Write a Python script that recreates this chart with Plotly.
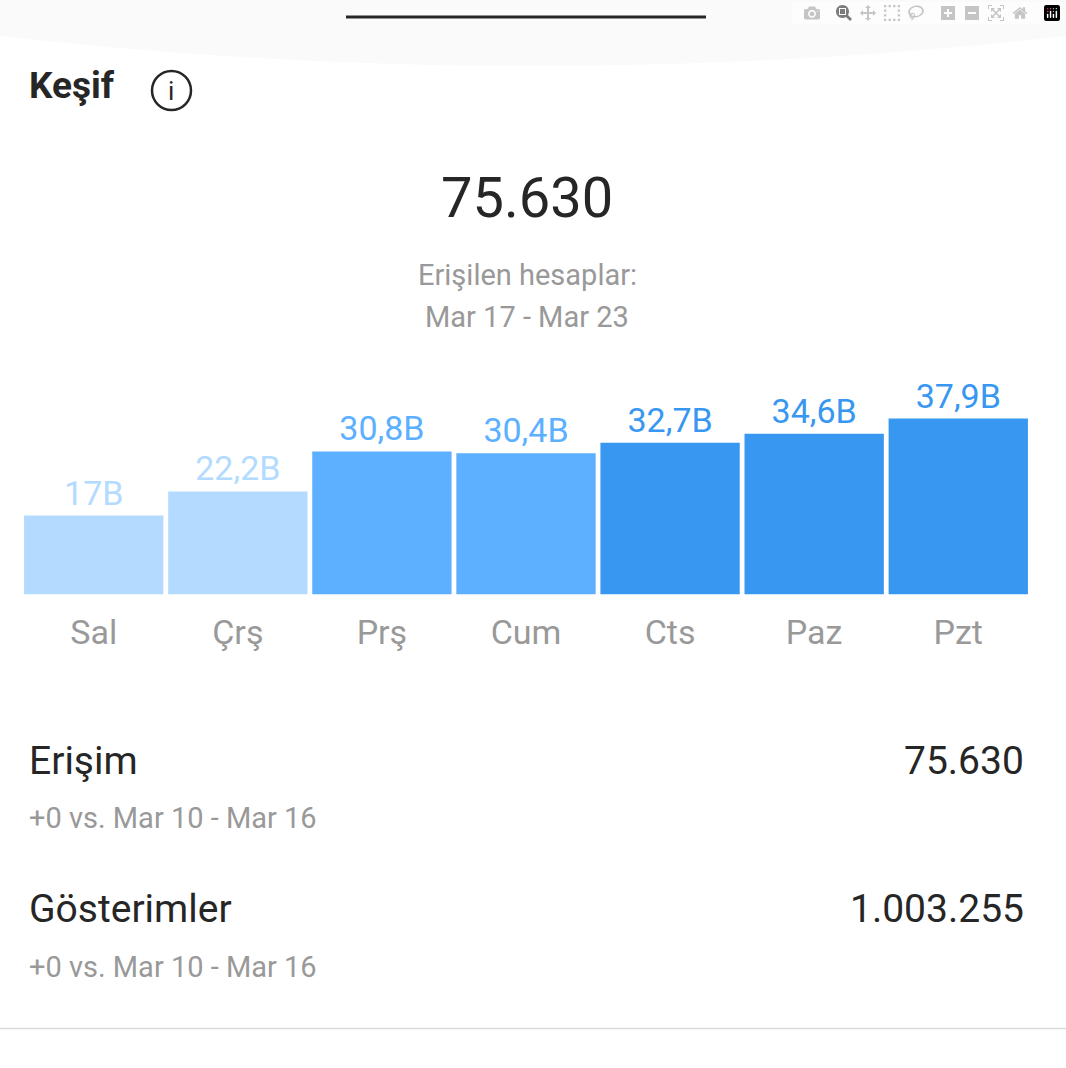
import plotly.graph_objects as go

# Data
days = ["Sal", "Çrş", "Prş", "Cum", "Cts", "Paz", "Pzt"]
reach = [17, 22.2, 30.8, 30.4, 32.7, 34.6, 37.9]
reach_labels = ["17B", "22,2B", "30,8B", "30,4B", "32,7B", "34,6B", "37,9B"]
bar_colors = ["#b3dbff", "#b3dbff", "#5cb0ff", "#5cb0ff", "#3897f0", "#3897f0", "#3897f0"]

W = 1066
H = 1068
DARK = "#262626"
GREY = "#999999"
FONT = "Roboto"


def px(x):
    return x / W


def py(y):
    return 1 - y / H


fig = go.Figure()

fig.add_trace(go.Bar(
    x=days,
    y=reach,
    marker=dict(color=bar_colors, line_width=0),
    text=reach_labels,
    textposition="outside",
    textfont=dict(family=FONT, size=34, color=bar_colors),
    cliponaxis=False,
    hoverinfo="skip",
))


def label(x, y, text, size, color=DARK, anchor="left"):
    fig.add_annotation(
        xref="paper", yref="paper", x=px(x), y=py(y), text=text, showarrow=False,
        xanchor=anchor, yanchor="middle", borderpad=0,
        font=dict(family=FONT, size=size, color=color),
    )


label(28, 86, "<b>Keşif</b>", 37)
label(171, 91, "i", 26, DARK, "center")
label(527, 198, "75.630", 56, DARK, "center")
label(527, 275, "Erişilen hesaplar:", 29, GREY, "center")
label(527, 317, "Mar 17 - Mar 23", 29, GREY, "center")
label(28, 761, "Erişim", 39)
label(1025, 761, "75.630", 39, DARK, "right")
label(28, 818, "+0 vs. Mar 10 - Mar 16", 29, GREY)
label(28, 909, "Gösterimler", 39)
label(1025, 909, "1.003.255", 39, DARK, "right")
label(28, 967, "+0 vs. Mar 10 - Mar 16", 29, GREY)

# sheet header, drag handle, info icon, divider
band = (f"M 0 1 L 1 1 L 1 {py(36)} Q 0.5 {py(96)} 0 {py(36)} Z")
fig.add_shape(type="path", xref="paper", yref="paper", path=band,
              fillcolor="#fafafa", line_width=0, layer="below")
fig.add_shape(type="line", xref="paper", yref="paper", x0=px(346), x1=px(706), y0=py(17), y1=py(17),
              line=dict(color=DARK, width=3))
fig.add_shape(type="circle", xref="paper", yref="paper", x0=px(152), x1=px(191), y0=py(71), y1=py(110),
              line=dict(color=DARK, width=2.5))
fig.add_shape(type="line", xref="paper", yref="paper", x0=0, x1=1, y0=py(1028.5), y1=py(1028.5),
              line=dict(color="#dbdbdb", width=1.5))

fig.update_layout(
    width=W,
    height=H,
    margin=dict(l=0, r=0, t=0, b=0),
    paper_bgcolor="white",
    plot_bgcolor="white",
    showlegend=False,
    bargap=0.033,
    xaxis=dict(
        domain=[px(21.7), px(1030.3)],
        range=[-0.5, 6.5],
        showgrid=False,
        zeroline=False,
        showline=False,
        ticks="",
        ticklabelstandoff=14,
        tickfont=dict(family=FONT, size=34, color=GREY),
    ),
    yaxis=dict(
        domain=[py(594.5), py(360)],
        range=[0, 50.5],
        visible=False,
    ),
)

fig.write_html("out.html", post_script="document.body.style.margin='0';")
